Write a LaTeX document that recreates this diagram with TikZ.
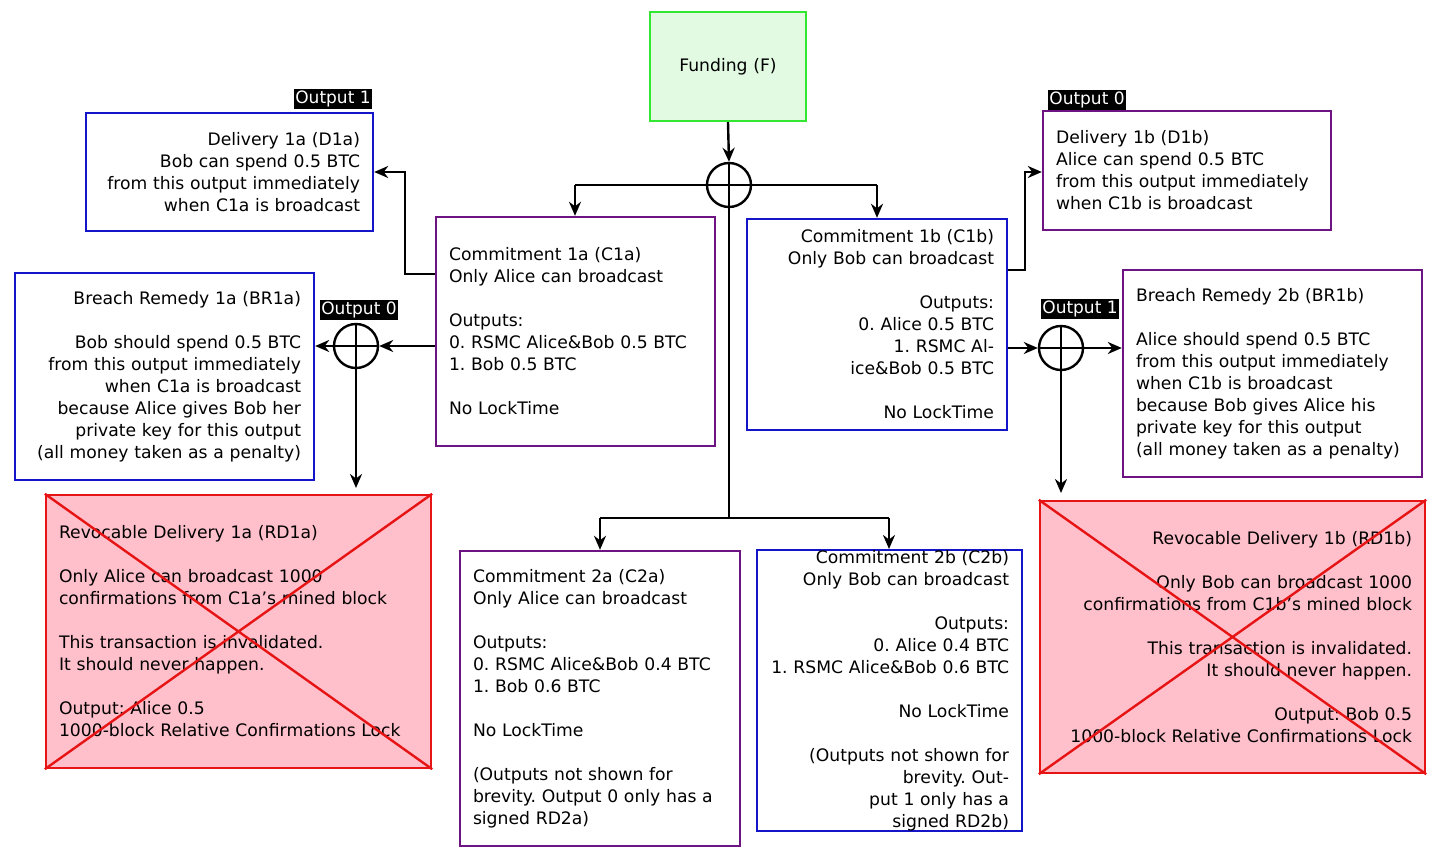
\documentclass[tikz,border=0pt]{standalone}
\usepackage{fontspec}
\setmainfont{DejaVu Sans}
\usetikzlibrary{arrows.meta}
\definecolor{bblue}{RGB}{20,20,200}
\definecolor{ppurple}{RGB}{110,20,130}
\definecolor{ggreen}{RGB}{50,230,50}
\definecolor{gfill}{RGB}{225,250,225}
\definecolor{rred}{RGB}{230,20,20}
\definecolor{pinkf}{RGB}{255,192,203}
\frenchspacing
\newcommand{\bx}[7]{%
  \pgfmathsetmacro\bw{#4-#2}\pgfmathsetmacro\bh{#5-#3}\pgfmathsetmacro\tw{#4-#2-26}%
  \node[box,#6,minimum width=\bw pt,minimum height=\bh pt,text width=\tw pt] (#1) at ({(#2+#4)/2},{(#3+#5)/2}) {#7};}
\begin{document}
\begin{tikzpicture}[x=1pt,y=-1pt,
  box/.style={draw,line width=2.4pt,font=\fontsize{17.2}{22}\selectfont,inner sep=0pt},
  lab/.style={fill=black,text=white,font=\fontsize{17}{18}\selectfont,inner sep=1.5pt},
  ln/.style={line width=2.4pt},
  ar/.style={ln,-{Stealth[length=14pt,width=12pt]}},
  xr/.style={draw,circle,line width=2.4pt,minimum size=44pt,inner sep=0pt}]
\useasboundingbox (0,0) rectangle (1436,858);
\bx{F}{650}{12}{806}{121}{draw=ggreen,fill=gfill,align=center}{Funding (F)}
\bx{D1a}{86}{113}{373}{231}{draw=bblue,align=right}{Delivery 1a (D1a)\\Bob can spend 0.5 BTC\\from this output immediately\\when C1a is broadcast}
\bx{D1b}{1043}{111}{1331}{230}{draw=ppurple,align=left}{Delivery 1b (D1b)\\Alice can spend 0.5 BTC\\from this output immediately\\when C1b is broadcast}
\bx{C1a}{436}{217}{715}{446}{draw=ppurple,align=left}{Commitment 1a (C1a)\\Only Alice can broadcast\\[22pt]Outputs:\\0. RSMC Alice\&Bob 0.5 BTC\\1. Bob 0.5 BTC\\[22pt]No LockTime}
\bx{C1b}{747}{219}{1007}{430}{draw=bblue,align=right}{Commitment 1b (C1b)\\Only Bob can broadcast\\[22pt]Outputs:\\0. Alice 0.5 BTC\\1. RSMC Alice\&Bob 0.5 BTC\\[22pt]No LockTime}
\bx{BR1a}{15}{273}{314}{480}{draw=bblue,align=right}{Breach Remedy 1a (BR1a)\\[22pt]Bob should spend 0.5 BTC\\from this output immediately\\when C1a is broadcast\\because Alice gives Bob her\\private key for this output\\(all money taken as a penalty)}
\bx{BR1b}{1123}{270}{1422}{477}{draw=ppurple,align=left}{Breach Remedy 2b (BR1b)\\[22pt]Alice should spend 0.5 BTC\\from this output immediately\\when C1b is broadcast\\because Bob gives Alice his\\private key for this output\\(all money taken as a penalty)}
\bx{RD1a}{46}{495}{431}{768}{draw=rred,fill=pinkf,align=left}{Revocable Delivery 1a (RD1a)\\[22pt]Only Alice can broadcast 1000\\confirmations from C1a's mined block\\[22pt]This transaction is invalidated.\\It should never happen.\\[22pt]Output: Alice 0.5\\1000-block Relative Confirmations Lock}
\bx{RD1b}{1040}{501}{1425}{773}{draw=rred,fill=pinkf,align=right}{Revocable Delivery 1b (RD1b)\\[22pt]Only Bob can broadcast 1000\\confirmations from C1b's mined block\\[22pt]This transaction is invalidated.\\It should never happen.\\[22pt]Output: Bob 0.5\\1000-block Relative Confirmations Lock}
\draw[rred,line width=2.4pt] (RD1a.north west)--(RD1a.south east) (RD1a.south west)--(RD1a.north east);
\draw[rred,line width=2.4pt] (RD1b.north west)--(RD1b.south east) (RD1b.south west)--(RD1b.north east);
\bx{C2a}{460}{551}{740}{846}{draw=ppurple,align=left}{Commitment 2a (C2a)\\Only Alice can broadcast\\[22pt]Outputs:\\0. RSMC Alice\&Bob 0.4 BTC\\1. Bob 0.6 BTC\\[22pt]No LockTime\\[22pt](Outputs not shown for\\brevity. Output 0 only has a\\signed RD2a)}
\bx{C2b}{757}{551}{1022}{830}{draw=bblue,align=right}{Commitment 2b (C2b)\\Only Bob can broadcast\\[22pt]Outputs:\\0. Alice 0.4 BTC\\1. RSMC Alice\&Bob 0.6 BTC\\[22pt]No LockTime\\[22pt](Outputs not shown for\\brevity. Output 1 only has a\\signed RD2b)}
\node[lab] (l1) at (333,99) {Output 1};
\node[lab] (l2) at (1087,100) {Output 0};
\node[lab] (l3) at (359,310) {Output 0};
\node[lab] (l4) at (1080,309) {Output 1};
\node[xr] (X0) at (729,185) {};
\node[xr] (XA) at (356,346) {};
\node[xr] (XB) at (1061,348) {};
\foreach \c in {X0,XA,XB}{\draw[ln] (\c.north)--(\c.south) (\c.west)--(\c.east);}
\draw[ar] (F.south)--(X0.north);
\draw[ln] (X0.west)--(575,185) (X0.east)--(877,185);
\draw[ar] (575,185)--(C1a.north -| 575,0);
\draw[ar] (877,185)--(C1b.north -| 877,0);
\coordinate (J) at (729,518);
\draw[ln] (X0.south)--(J) (600,518)--(889,518);
\draw[ar] (600,518)--(C2a.north -| 600,0);
\draw[ar] (889,518)--(C2b.north -| 889,0);
\draw[ar] (C1a.west |- 0,274) -- (405,274) -- (405,172) -- (D1a.east |- 0,172);
\draw[ar] (C1a.west |- 0,346) -- (XA.east);
\draw[ar] (XA.west) -- (BR1a.east |- 0,346);
\draw[ar] (XA.south) -- (356,488);
\draw[ar] (C1b.east |- 0,270) -- (1025,270) -- (1025,172) -- (D1b.west |- 0,172);
\draw[ar] (C1b.east |- 0,348) -- (XB.west);
\draw[ar] (XB.east) -- (BR1b.west |- 0,348);
\draw[ar] (XB.south) -- (1061,493);
\end{tikzpicture}
\end{document}
